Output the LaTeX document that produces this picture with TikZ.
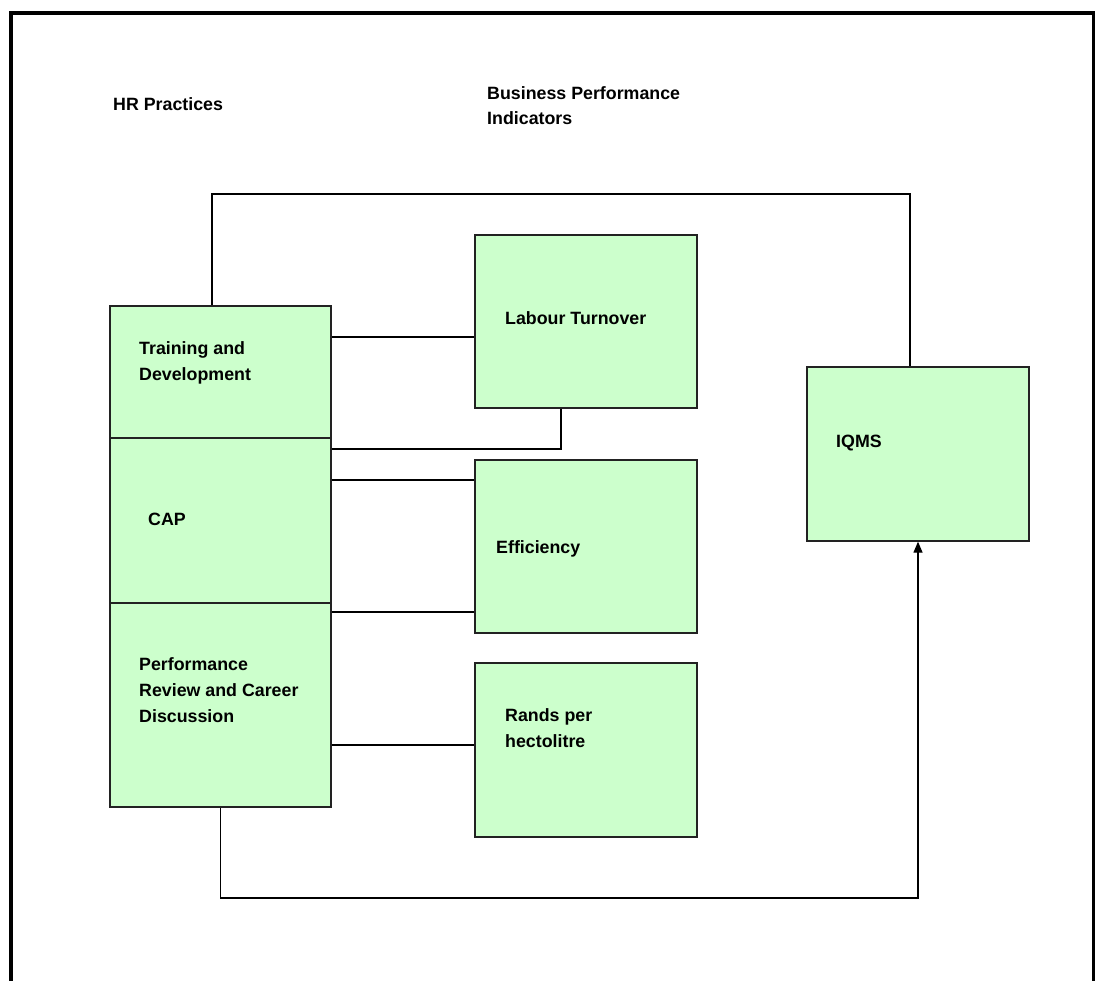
\documentclass[tikz,border=0pt]{standalone}
\usepackage{fontspec}
\setmainfont{Liberation Sans}
\usetikzlibrary{arrows.meta}
\definecolor{boxfill}{HTML}{CCFFCC}
\definecolor{boxline}{HTML}{222222}
\tikzset{
  practicebox/.style={draw=boxline, line width=1.3pt, fill=boxfill, rectangle, inner sep=0pt},
  conn/.style={draw=black, line width=1.2pt},
  lbl/.style={anchor=base west, inner sep=0pt, align=left,
              font=\bfseries\fontsize{17.8}{26}\selectfont},
  head/.style={anchor=base west, inner sep=0pt, align=left,
              font=\bfseries\fontsize{17.8}{24.5}\selectfont}
}
\begin{document}
\begin{tikzpicture}[x=1pt, y=-1pt]
\useasboundingbox (0,0) rectangle (1095,980);
% outer frame, open at the bottom
\draw[line width=4pt] (11,990) -- (11,13) -- (1093.5,13) -- (1093.5,990);

% column headings (multi-line texts are placed by their last baseline)
\node[head] (hhr) at (113,110) {HR Practices};
\node[head] (hbp) at (487,124) {Business Performance\\Indicators};

% HR practice boxes (stacked column)
\node[practicebox, minimum width=221pt, minimum height=132pt] (td) at (220.5,372) {};
\node[practicebox, minimum width=221pt, minimum height=165pt] (cap) at (220.5,520.5) {};
\node[practicebox, minimum width=221pt, minimum height=204pt] (pr) at (220.5,705) {};

% performance indicator boxes
\node[practicebox, minimum width=222pt, minimum height=173pt] (lt) at (586,321.5) {};
\node[practicebox, minimum width=222pt, minimum height=173pt] (ef) at (586,546.5) {};
\node[practicebox, minimum width=222pt, minimum height=174pt] (rh) at (586,750) {};
\node[practicebox, minimum width=222pt, minimum height=174pt] (iq) at (918,454) {};

% box texts
\node[lbl] (ttd) at (139,380) {Training and\\Development};
\node[lbl] (tcap) at (148,525) {CAP};
\node[lbl] (tpr) at (139,722) {Performance\\Review and Career\\Discussion};
\node[lbl] (tlt) at (505,324) {Labour Turnover};
\node[lbl] (tef) at (496,553) {Efficiency};
\node[lbl] (trh) at (505,747) {Rands per\\hectolitre};
\node[lbl] (tiq) at (836,447) {IQMS};

% helper levels for the connectors
\coordinate (ytop) at (0,194);
\coordinate (y1) at (0,337);
\coordinate (y2) at (0,449);
\coordinate (y3) at (0,480);
\coordinate (y4) at (0,612);
\coordinate (y5) at (0,745);
\coordinate (ybot) at (0,898);
\coordinate (ta) at ([xshift=-8.5pt]td.north);
\coordinate (tb) at ([xshift=-8pt]iq.north);
\coordinate (lb) at ([xshift=-25pt]lt.south);

% connectors
\draw[conn] (ta) -- (ta |- ytop) -- (tb |- ytop) -- (tb);
\draw[conn] (td.east |- y1) -- (lt.west |- y1);
\draw[conn] (lb) -- (lb |- y2) -- (cap.east |- y2);
\draw[conn] (cap.east |- y3) -- (ef.west |- y3);
\draw[conn] (pr.east |- y4) -- (ef.west |- y4);
\draw[conn] (pr.east |- y5) -- (rh.west |- y5);
\draw[conn, -{Triangle[length=11pt, width=9pt]}] (pr.south) -- (pr.south |- ybot) -| (iq.south);
\end{tikzpicture}
\end{document}
